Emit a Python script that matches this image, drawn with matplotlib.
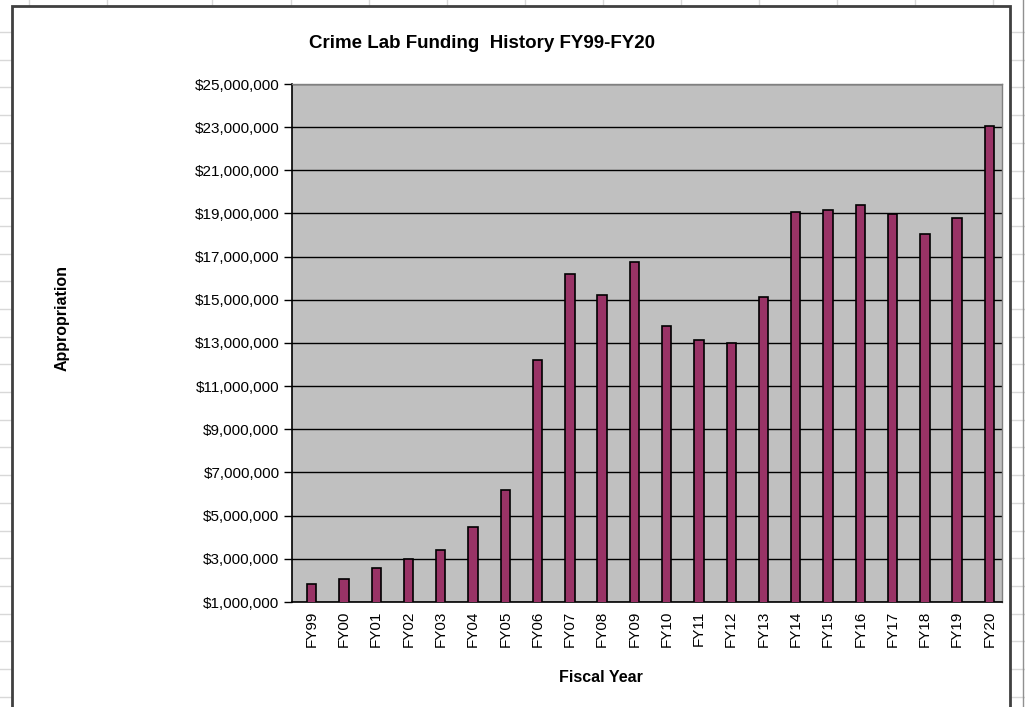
import matplotlib
matplotlib.use("Agg")
import matplotlib.pyplot as plt
from matplotlib.lines import Line2D
from matplotlib.patches import Rectangle
from matplotlib.ticker import FuncFormatter

plt.rcParams['font.family'] = ['Liberation Sans', 'DejaVu Sans']

years = ["FY99", "FY00", "FY01", "FY02", "FY03", "FY04", "FY05", "FY06", "FY07",
         "FY08", "FY09", "FY10", "FY11", "FY12", "FY13", "FY14", "FY15", "FY16",
         "FY17", "FY18", "FY19", "FY20"]
appropriation = [1830000, 2070000, 2580000, 3000000, 3410000, 4470000, 6190000,
                 12200000, 16200000, 15230000, 16730000, 13790000, 13140000,
                 13000000, 15140000, 19050000, 19140000, 19400000, 18970000,
                 18070000, 18770000, 23050000]
y_ticks = [1000000, 3000000, 5000000, 7000000, 9000000, 11000000, 13000000,
           15000000, 17000000, 19000000, 21000000, 23000000, 25000000]

W, H = 1025, 707
fig = plt.figure(figsize=(W / 100, H / 100), dpi=100)
fig.patch.set_facecolor('white')

# spreadsheet cell gridlines behind chart
grid_c = '#d8d8d8'
for xx in [29, 107, 212, 291, 369, 447, 525, 603, 681, 759, 837, 915, 993]:
    fig.add_artist(Line2D([xx / W, xx / W], [1, 1 - 6 / H], color=grid_c, lw=1,
                          zorder=-20))
yy = 32.0
while yy < H:
    fig.add_artist(Line2D([0, 12 / W], [1 - yy / H, 1 - yy / H], color=grid_c,
                          lw=1, zorder=-20))
    fig.add_artist(Line2D([1011 / W, 1], [1 - yy / H, 1 - yy / H], color=grid_c,
                          lw=1, zorder=-20))
    yy += 27.7
fig.add_artist(Line2D([1023 / W, 1023 / W], [0, 1], color='#909090', lw=1,
                      zorder=-20))

# chart frame
fig.add_artist(Rectangle((12 / W, -0.05), (1010 - 12) / W, 1 - 6 / H + 0.05,
                         transform=fig.transFigure, facecolor='white',
                         edgecolor='#404040', lw=2, zorder=-10))

left, right, top, bottom = 292, 1002, 84, 602
ax = fig.add_axes([left / W, 1 - bottom / H, (right - left) / W, (bottom - top) / H])
ax.set_zorder(5)
ax.set_facecolor('#c0c0c0')

x = list(range(len(years)))
ax.bar(x, appropriation, width=0.29, color='#993366', edgecolor='black',
       linewidth=1.2, zorder=3)

ax.set_ylim(y_ticks[0], y_ticks[-1])
ax.set_xlim(-0.61, len(years) - 0.61)
ax.set_yticks(y_ticks)
ax.yaxis.set_major_formatter(FuncFormatter(lambda v, p: "${:,.0f}".format(v)))
ax.grid(axis='y', color='black', lw=1, zorder=1)
ax.set_axisbelow(True)

ax.set_xticks(x)
ax.set_xticklabels(years, rotation=90, fontsize=11)
ax.tick_params(axis='x', length=0, pad=6)
ax.tick_params(axis='y', length=6, width=1, direction='out', labelsize=11, pad=3)

for s in ['top', 'right']:
    ax.spines[s].set_color('#808080')
    ax.spines[s].set_linewidth(1)
for s in ['left', 'bottom']:
    ax.spines[s].set_color('black')
    ax.spines[s].set_linewidth(1.2)

fig.text(482 / W, 1 - 44 / H, "Crime Lab Funding  History FY99-FY20",
         ha='center', va='center', fontsize=13.5, fontweight='bold')
fig.text(62 / W, 1 - 318 / H, "Appropriation", rotation=90, ha='center',
         va='center', fontsize=11.5, fontweight='bold')
fig.text(601 / W, 1 - 677 / H, "Fiscal Year", ha='center', va='center',
         fontsize=11.5, fontweight='bold')

fig.savefig("out.png", dpi=100)
